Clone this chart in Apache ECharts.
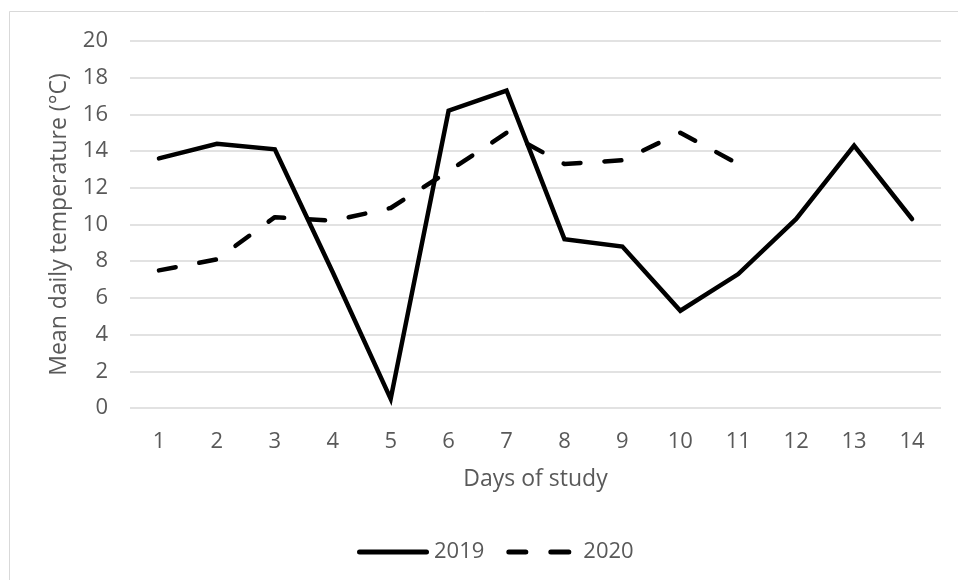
<!DOCTYPE html>
<html>
<head>
<meta charset="utf-8">
<script src="https://cdn.jsdelivr.net/npm/echarts@6/dist/echarts.min.js"></script>
<style>html,body{margin:0;padding:0;background:#fff;}#c{width:958px;height:580px;}</style>
</head>
<body>
<div id="c"></div>
<script>
const days = ['1','2','3','4','5','6','7','8','9','10','11','12','13','14'];
const temp2019 = [13.6, 14.4, 14.1, 7.4, 0.5, 16.2, 17.3, 9.2, 8.8, 5.3, 7.3, 10.3, 14.3, 10.3];
const temp2020 = [7.5, 8.1, 10.4, 10.2, 10.9, 12.9, 15.0, 13.3, 13.5, 15.0, 13.3];
const yTicks = [0, 2, 4, 6, 8, 10, 12, 14, 16, 18, 20];

const FONT = '"Open Sans", sans-serif';
const GREY = '#595959';
const FS = 22;
const FSN = 23;
const solidIcon = 'path://M2.5,0H69.5A2.5,2.5 0 0 1 69.5,5H2.5A2.5,2.5 0 0 1 2.5,0Z';
const dashIcon = 'path://M2.5,0H19.5A2.5,2.5 0 0 1 19.5,5H2.5A2.5,2.5 0 0 1 2.5,0Z' +
  'M44.5,0H62.5A2.5,2.5 0 0 1 62.5,5H44.5A2.5,2.5 0 0 1 44.5,0Z' +
  'M72,2.5L72,2.5';
const chart = echarts.init(document.getElementById('c'), null, {renderer: 'canvas'});
chart.setOption({
  animation: false,
  backgroundColor: '#fff',
  textStyle: {fontFamily: FONT, color: GREY},
  graphic: [{
    type: 'rect', silent: true, z: -10,
    shape: {x: 9.5, y: 11.5, width: 1000, height: 1000},
    style: {fill: 'none', stroke: '#d9d9d9', lineWidth: 1}
  }],
  grid: {left: 130, right: 17, top: 41, bottom: 172, containLabel: false},
  legend: {
    top: 536, left: 352,
    itemWidth: 72, itemHeight: 5, itemGap: 22,
    itemStyle: {color: '#000'},
    textStyle: {fontFamily: FONT, fontSize: FS, color: GREY, padding: [0,0,0,0]},
    data: [{name: '2019', icon: solidIcon}, {name: '2020', icon: dashIcon}]
  },
  xAxis: {
    type: 'category', data: days, boundaryGap: true,
    name: 'Days of study', nameLocation: 'middle', nameGap: 60,
    nameTextStyle: {fontFamily: FONT, fontSize: FSN, color: GREY},
    axisLine: {show: false}, axisTick: {show: false},
    axisLabel: {fontFamily: FONT, fontSize: FS, color: GREY, margin: 23}
  },
  yAxis: {
    type: 'value', min: yTicks[0], max: yTicks[yTicks.length-1], interval: 2,
    name: 'Mean daily temperature (°C)', nameLocation: 'middle', nameGap: 59,
    nameTextStyle: {fontFamily: FONT, fontSize: FSN, color: GREY},
    axisLine: {show: false}, axisTick: {show: false},
    axisLabel: {fontFamily: FONT, fontSize: FS, color: GREY, margin: 22},
    splitLine: {lineStyle: {color: '#d9d9d9', width: 1.5}}
  },
  series: [
    {
      name: '2019', type: 'line', data: temp2019, symbol: 'none',
      lineStyle: {color: '#000', width: 4.5, cap: 'round', join: 'miter'},
      itemStyle: {color: '#000'}
    },
    {
      name: '2020', type: 'line', data: temp2020, symbol: 'none',
      lineStyle: {color: '#000', width: 4.5, type: [17, 24], cap: 'round', join: 'round'},
      itemStyle: {color: '#000'}
    }
  ]
});
</script>
</body>
</html>
